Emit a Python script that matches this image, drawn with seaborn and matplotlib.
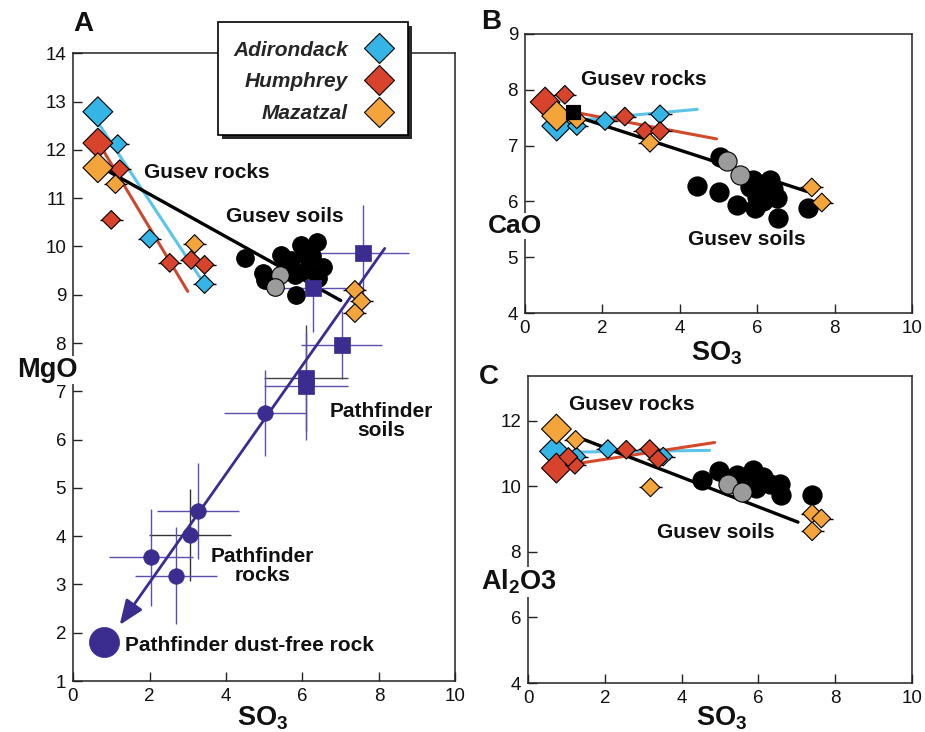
import numpy as np
import pandas as pd
import matplotlib
matplotlib.use("Agg")
import matplotlib.pyplot as plt
import seaborn as sns
from matplotlib.lines import Line2D
from matplotlib.patches import Rectangle

# ------------------------------------------------------------------ data
# Panel A : MgO vs SO3
A_adk_so3 = [0.65, 1.17, 2.00, 3.44]
A_adk_mgo = [12.79, 12.12, 10.16, 9.22]
A_hum_so3 = [0.65, 1.22, 1.00, 2.53, 3.09, 3.44]
A_hum_mgo = [12.14, 11.60, 10.55, 9.66, 9.72, 9.62]
A_maz_so3 = [0.65, 1.11, 3.18, 7.37, 7.54, 7.37]
A_maz_mgo = [11.63, 11.29, 10.05, 9.10, 8.86, 8.62]
A_soil_so3 = [4.49, 4.97, 5.45, 5.71, 5.97, 6.37, 6.10, 6.54, 5.84, 5.01, 6.41, 5.80, 6.05, 5.60, 6.25]
A_soil_mgo = [9.76, 9.45, 9.82, 9.72, 10.03, 10.10, 9.51, 9.58, 9.00, 9.31, 9.34, 9.41, 9.85, 9.60, 9.80]
A_grey_so3 = [5.41, 5.27]
A_grey_mgo = [9.41, 9.17]
pf_soil_so3 = [6.28, 7.59, 7.02, 6.10, 6.10]
pf_soil_mgo = [9.13, 9.86, 7.96, 7.27, 7.10]
pf_soil_so3_err = [0.85, 1.20, 1.05, 1.10, 1.10]
pf_soil_mgo_err = [0.90, 1.00, 0.70, 1.10, 1.10]
pf_rock_so3 = [5.01, 3.27, 3.05, 2.05, 2.70]
pf_rock_mgo = [6.55, 4.52, 4.03, 3.56, 3.18]
pf_rock_so3_err = [1.07, 1.07, 1.07, 1.10, 1.07]
pf_rock_mgo_err = [0.90, 1.00, 0.95, 1.00, 1.00]
pf_dustfree_so3 = [0.82]
pf_dustfree_mgo = [1.80]
A_gusev_line_so3 = [0.87, 7.00]
A_gusev_line_mgo = [11.58, 8.88]
A_adk_line_so3 = [0.69, 3.36]
A_adk_line_mgo = [12.52, 9.31]
A_hum_line_so3 = [0.78, 3.00]
A_hum_line_mgo = [12.00, 9.07]
pf_line_so3 = [8.15, 1.22]
pf_line_mgo = [9.96, 2.16]

# Panel B : CaO vs SO3
B_adk_so3 = [0.82, 1.34, 2.07, 3.49]
B_adk_cao = [7.35, 7.35, 7.44, 7.56]
B_hum_so3 = [0.52, 1.03, 2.58, 3.10, 3.49]
B_hum_cao = [7.78, 7.91, 7.52, 7.26, 7.26]
B_maz_so3 = [0.82, 1.34, 3.23, 7.41, 7.67]
B_maz_cao = [7.53, 7.47, 7.05, 6.25, 5.98]
B_sq_so3 = [1.25]
B_sq_cao = [7.60]
B_soil_so3 = [4.44, 5.00, 5.04, 5.47, 5.94, 6.55, 5.81, 6.16, 6.42, 6.50, 6.16, 5.99, 7.32, 5.90, 6.33]
B_soil_cao = [6.28, 6.17, 6.80, 5.94, 5.88, 5.71, 6.26, 6.20, 6.23, 6.06, 6.00, 6.08, 5.88, 6.38, 6.38]
B_grey_so3 = [5.21, 5.56]
B_grey_cao = [6.72, 6.48]
B_gusev_line_so3 = [1.42, 7.28]
B_gusev_line_cao = [7.50, 6.18]
B_adk_line_so3 = [0.80, 4.45]
B_adk_line_cao = [7.42, 7.65]
B_hum_line_so3 = [0.80, 4.95]
B_hum_line_cao = [7.66, 7.12]

# Panel C : Al2O3 vs SO3
C_adk_so3 = [0.69, 1.26, 2.08, 3.52]
C_adk_al = [11.07, 10.91, 11.14, 10.91]
C_hum_so3 = [0.74, 1.22, 1.05, 2.56, 3.17, 3.39]
C_hum_al = [10.56, 10.66, 10.90, 11.12, 11.14, 10.83]
C_maz_so3 = [0.74, 1.24, 3.19, 7.40, 7.64, 7.40]
C_maz_al = [11.75, 11.42, 9.97, 9.17, 9.02, 8.63]
C_soil_so3 = [4.54, 4.97, 5.43, 5.69, 5.86, 6.12, 6.29, 6.55, 6.60, 7.40, 5.95, 5.77]
C_soil_al = [10.20, 10.48, 10.36, 10.25, 10.51, 10.30, 10.08, 10.08, 9.75, 9.73, 9.95, 10.15]
C_grey_so3 = [5.21, 5.56]
C_grey_al = [10.08, 9.82]
C_gusev_line_so3 = [1.26, 7.03]
C_gusev_line_al = [11.52, 8.91]
C_adk_line_so3 = [1.35, 4.73]
C_adk_line_al = [11.05, 11.10]
C_hum_line_so3 = [1.35, 4.86]
C_hum_line_al = [10.71, 11.34]

sites = ["Adirondack", "Humphrey", "Mazatzal"]

# ------------------------------------------------------------------ style
sns.set_theme(style="ticks")
plt.rcParams["font.family"] = ["Liberation Sans", "DejaVu Sans"]
plt.rcParams["mathtext.fontset"] = "custom"
plt.rcParams["mathtext.bf"] = "Liberation Sans:bold"
plt.rcParams["mathtext.rm"] = "Liberation Sans"
plt.rcParams["mathtext.it"] = "Liberation Sans:italic"

CYAN, RED, ORANGE = "#35B5E5", "#D8432B", "#F3A53B"
PURPLE, PURPLE_LT = "#3B2C8F", "#5E4FAE"
GREY = "#9B9B9B"
site_pal = dict(zip(sites, [CYAN, RED, ORANGE]))

W, H = 925, 732
fig = plt.figure(figsize=(W / 100, H / 100), dpi=100)


def box(l, t, r, b):
    return [l / W, 1 - b / H, (r - l) / W, (b - t) / H]


axA = fig.add_axes(box(73, 53.3, 455.5, 681))
axB = fig.add_axes(box(525, 34, 912, 313))
axC = fig.add_axes(box(528, 376, 912, 683))


def diamond_frame(series):
    rows = []
    for site, xs, ys in series:
        for i, (x, y) in enumerate(zip(xs, ys)):
            rows.append(dict(site=site, so3=x, val=y, kind="big" if i == 0 else "small"))
    return pd.DataFrame(rows)


def draw_diamonds(ax, df):
    small = df[df.kind == "small"]
    ax.errorbar(small.so3, small.val, xerr=0.3, fmt="none", ecolor="black",
                elinewidth=1.0, capsize=0, zorder=3)
    sns.scatterplot(data=df, x="so3", y="val", hue="site", palette=site_pal,
                    size="kind", sizes={"big": 230, "small": 90}, marker="D",
                    edgecolor="black", linewidth=0.8, legend=False, ax=ax, zorder=4)


def draw_line(ax, xs, ys, color, lw=2.2, z=2):
    sns.lineplot(x=xs, y=ys, color=color, lw=lw, ax=ax, sort=False,
                 estimator=None, zorder=z)


def draw_circles(ax, xs, ys, color, s=160, ec="black", z=3.5):
    sns.scatterplot(x=xs, y=ys, color=color, s=s, edgecolor=ec, linewidth=0.8,
                    marker="o", ax=ax, zorder=z, legend=False)


def style_axis(ax, xlim, ylim, yticks):
    ax.set_xlim(*xlim)
    ax.set_ylim(*ylim)
    ax.set_xticks(np.arange(0, 11, 2))
    ax.set_yticks(yticks)
    ax.set_xlabel("")
    ax.set_ylabel("")
    ax.tick_params(direction="in", length=6.5, width=1.0, labelsize=13.5,
                   pad=5, color="#222222", labelcolor="#111111")
    for sp in ax.spines.values():
        sp.set_visible(True)
        sp.set_linewidth(1.1)
        sp.set_color("#222222")


TXT = dict(fontsize=15, fontweight="bold", color="#111111")

# ------------------------------------------------------------------ Panel A
draw_line(axA, A_adk_line_so3, A_adk_line_mgo, "#5CC3EA")
draw_line(axA, A_hum_line_so3, A_hum_line_mgo, "#C94A2E")
draw_line(axA, A_gusev_line_so3, A_gusev_line_mgo, "black", lw=2.4)
draw_circles(axA, A_soil_so3, A_soil_mgo, "black")
draw_circles(axA, A_grey_so3, A_grey_mgo, GREY)

axA.annotate("", xy=(pf_line_so3[1], pf_line_mgo[1]),
             xytext=(pf_line_so3[0], pf_line_mgo[0]),
             arrowprops=dict(arrowstyle="-|>,head_length=0.75,head_width=0.3",
                             color=PURPLE, lw=2.0, mutation_scale=20,
                             shrinkA=0, shrinkB=0), zorder=3)
for i in range(len(pf_soil_so3)):
    axA.errorbar(pf_soil_so3[i], pf_soil_mgo[i], xerr=pf_soil_so3_err[i],
                 yerr=pf_soil_mgo_err[i], fmt="none",
                 ecolor="#444444" if i == 3 else PURPLE_LT, elinewidth=1.0,
                 capsize=0, zorder=2.5)
for i in range(len(pf_rock_so3)):
    axA.errorbar(pf_rock_so3[i], pf_rock_mgo[i], xerr=pf_rock_so3_err[i],
                 yerr=pf_rock_mgo_err[i], fmt="none",
                 ecolor="#333333" if i == 2 else PURPLE_LT, elinewidth=1.0,
                 capsize=0, zorder=2.5)
sns.scatterplot(x=pf_soil_so3, y=pf_soil_mgo, color=PURPLE, marker="s", s=125,
                edgecolor=PURPLE, linewidth=0.5, ax=axA, zorder=4, legend=False)
sns.scatterplot(x=pf_rock_so3, y=pf_rock_mgo, color=PURPLE, marker="o", s=125,
                edgecolor=PURPLE, linewidth=0.5, ax=axA, zorder=4, legend=False)
sns.scatterplot(x=pf_dustfree_so3, y=pf_dustfree_mgo, color=PURPLE, marker="o",
                s=470, edgecolor=PURPLE, linewidth=0.5, ax=axA, zorder=4,
                legend=False)

dfA = diamond_frame([("Adirondack", A_adk_so3, A_adk_mgo),
                     ("Humphrey", A_hum_so3, A_hum_mgo),
                     ("Mazatzal", A_maz_so3, A_maz_mgo)])
draw_diamonds(axA, dfA)
style_axis(axA, (0, 10), (1, 14), np.arange(1, 15, 1))

axA.text(3.49, 11.54, "Gusev rocks", ha="center", va="center", **TXT)
axA.text(5.54, 10.63, "Gusev soils", ha="center", va="center", **TXT)
axA.text(8.05, 6.39, "Pathfinder\nsoils", ha="center", va="center",
         linespacing=1.0, **TXT)
axA.text(4.96, 3.39, "Pathfinder\nrocks", ha="center", va="center",
         linespacing=1.0, **TXT)
axA.text(1.35, 1.73, "Pathfinder dust-free rock", ha="left", va="center", **TXT)

# legend: box with a hard drop shadow, entries right-aligned next to markers
L, T, R, B = 218, 22, 408, 135
fig.patches.append(Rectangle((L / W + 4 / W, 1 - B / H - 4 / H), (R - L) / W,
                             (B - T) / H, transform=fig.transFigure,
                             facecolor="#2a2a2a", edgecolor="none", zorder=8))
fig.patches.append(Rectangle((L / W, 1 - B / H), (R - L) / W, (B - T) / H,
                             transform=fig.transFigure, facecolor="white",
                             edgecolor="black", linewidth=1.2, zorder=9))
handles = [Line2D([], [], marker="D", ls="none", markersize=15,
                  markerfacecolor=site_pal[s], markeredgecolor="black",
                  markeredgewidth=0.8) for s in sites]
leg = fig.legend(handles, sites, loc="center right",
                 bbox_to_anchor=(395 / W, 1 - 82 / H),
                 bbox_transform=fig.transFigure, markerfirst=False,
                 frameon=False,
                 prop=dict(family="Liberation Sans", weight="bold",
                           style="italic", size=15),
                 borderpad=0, labelspacing=0.62, handlelength=1.5,
                 handletextpad=0.75, borderaxespad=0)
leg.set_zorder(10)

# ------------------------------------------------------------------ Panel B
draw_line(axB, B_adk_line_so3, B_adk_line_cao, "#5CC3EA")
draw_line(axB, B_hum_line_so3, B_hum_line_cao, "#D24A2A")
draw_line(axB, B_gusev_line_so3, B_gusev_line_cao, "black", lw=2.4)
draw_circles(axB, B_soil_so3, B_soil_cao, "black", s=190)
draw_circles(axB, B_grey_so3, B_grey_cao, GREY, s=190)
dfB = diamond_frame([("Adirondack", B_adk_so3, B_adk_cao),
                     ("Humphrey", B_hum_so3, B_hum_cao),
                     ("Mazatzal", B_maz_so3, B_maz_cao)])
draw_diamonds(axB, dfB)
sns.scatterplot(x=B_sq_so3, y=B_sq_cao, color="black", marker="s", s=110,
                edgecolor="black", ax=axB, zorder=4.5, legend=False)
style_axis(axB, (0, 10), (4, 9), np.arange(4, 10, 1))
axB.text(3.07, 8.18, "Gusev rocks", ha="center", va="center", **TXT)
axB.text(5.74, 5.31, "Gusev soils", ha="center", va="center", **TXT)

# ------------------------------------------------------------------ Panel C
draw_line(axC, C_adk_line_so3, C_adk_line_al, "#5CC3EA")
draw_line(axC, C_hum_line_so3, C_hum_line_al, "#D24A2A")
draw_line(axC, C_gusev_line_so3, C_gusev_line_al, "black", lw=2.4)
draw_circles(axC, C_soil_so3, C_soil_al, "black", s=190)
draw_circles(axC, C_grey_so3, C_grey_al, GREY, s=190)
dfC = diamond_frame([("Adirondack", C_adk_so3, C_adk_al),
                     ("Humphrey", C_hum_so3, C_hum_al),
                     ("Mazatzal", C_maz_so3, C_maz_al)])
draw_diamonds(axC, dfC)
style_axis(axC, (0, 10), (4, 13.37), np.arange(4, 13, 2))
axC.text(2.71, 12.49, "Gusev rocks", ha="center", va="center", **TXT)
axC.text(4.90, 8.58, "Gusev soils", ha="center", va="center", **TXT)

# ------------------------------------------------------------------ labels
LAB = dict(fontsize=19.5, fontweight="bold", color="#111111", ha="center",
           va="center", bbox=dict(fc="white", ec="none", pad=0.3), zorder=10)


def ftext(px, py, s, **kw):
    fig.text(px / W, 1 - py / H, s, **kw)


ftext(47, 370, "MgO", **LAB)
ftext(515, 226, "CaO", **{**LAB, "fontsize": 19})
ftext(519, 582, r"Al$_\mathbf{2}$O3", **LAB)
ftext(263, 718, r"SO$_\mathbf{3}$", **LAB)
ftext(717, 353, r"SO$_\mathbf{3}$", **LAB)
ftext(722, 718, r"SO$_\mathbf{3}$", **LAB)

PAN = dict(fontsize=20, fontweight="bold", color="#111111", ha="center",
           va="center")
ftext(83, 24, "A", **PAN)
ftext(491, 22, "B", **PAN)
ftext(489, 377, "C", **PAN)

fig.savefig("out.png", dpi=100, facecolor="white")
